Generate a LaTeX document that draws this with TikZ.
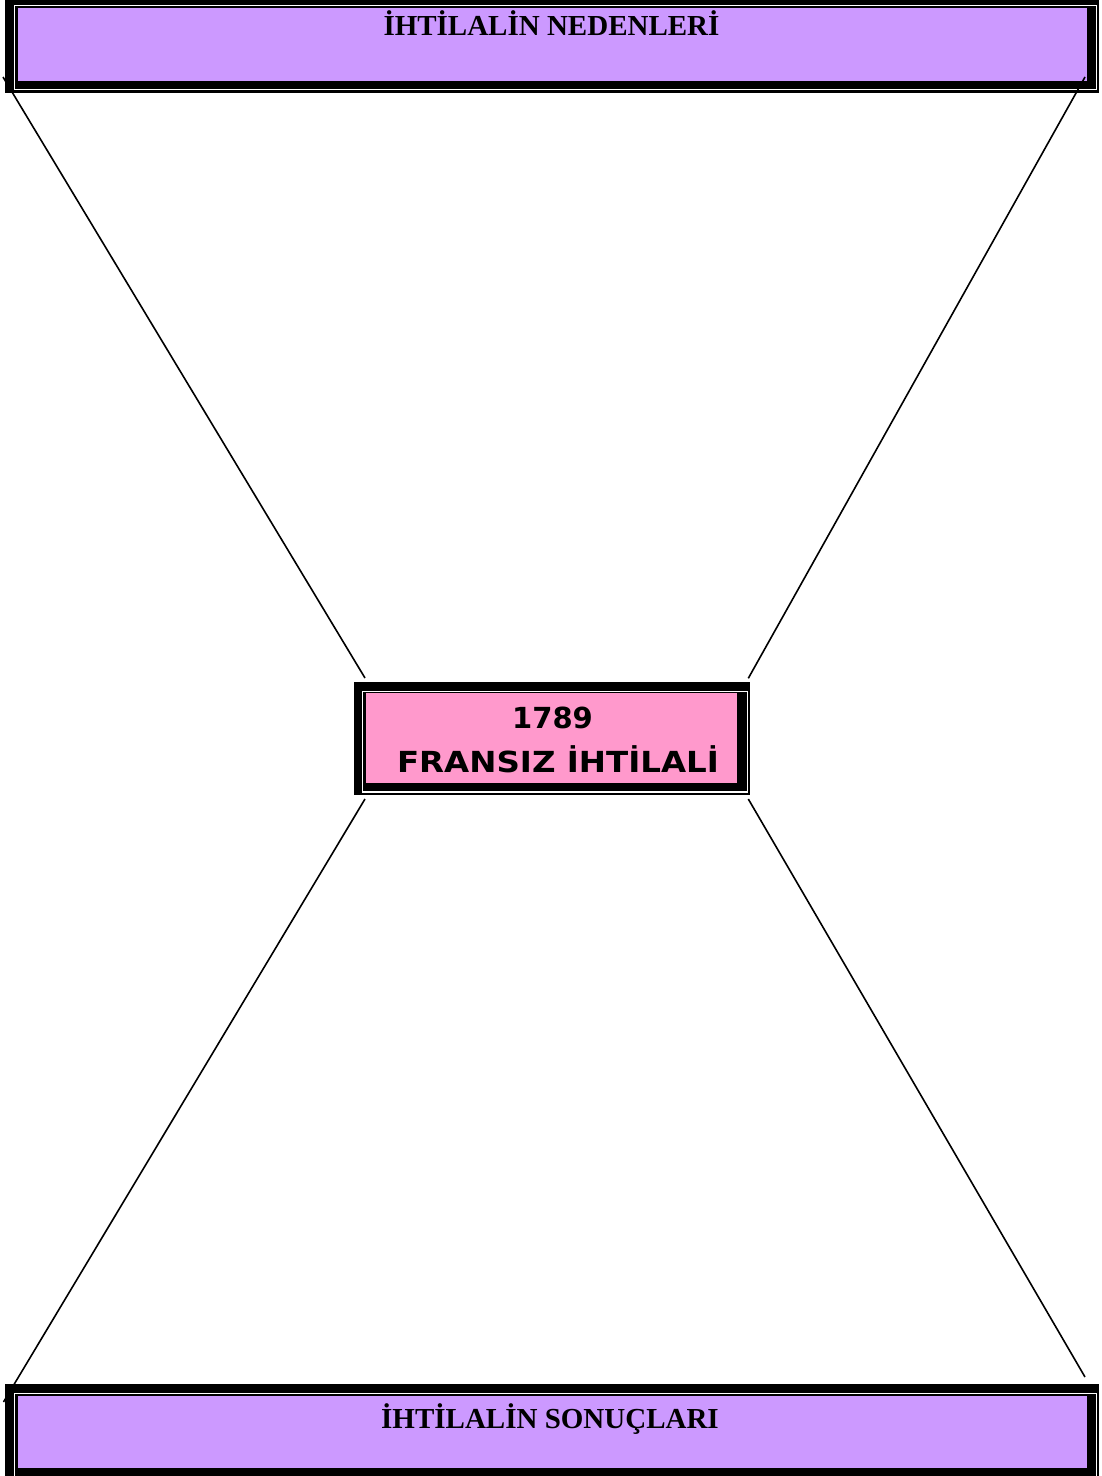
\documentclass[tikz,border=0pt]{standalone}
\usepackage{fontspec}
\setmainfont{Liberation Serif}
\newfontfamily\comicfont[FakeStretch=1.12]{DejaVu Sans}
\newfontfamily\yearfont{DejaVu Sans}
\definecolor{lavender}{HTML}{CC99FF}
\definecolor{pinkfill}{HTML}{FF99CC}
\begin{document}
\begin{tikzpicture}[x=1pt,y=-1pt,
  shadowframe/.style={fill=black,draw=none},
  innerline/.style={draw=white,line width=1.3pt},
  titlebg/.style={fill=lavender,draw=none},
  centerbg/.style={fill=pinkfill,draw=none},
  titletext/.style={anchor=base,inner sep=0pt,font=\fontsize{29}{34}\selectfont\bfseries},
  centertext/.style={anchor=base,inner sep=0pt,font=\fontsize{29}{34}\selectfont\bfseries\comicfont},
  connector/.style={draw=black,line width=1.6pt}]
\useasboundingbox (0,0) rectangle (1101,1476);
% top box
\fill[shadowframe] (5,0) rectangle (1099,93);
\draw[innerline] (14.5,5.5) rectangle (1096.5,89.5);
\fill[titlebg] (17.5,7.5) rectangle (1086.7,80.7);
\node[titletext] (causes) at (551.5,35) {İHTİLALİN NEDENLERİ};
% bottom box
\fill[shadowframe] (5,1384) rectangle (1099,1480);
\draw[innerline] (14.5,1393.5) rectangle (1096.5,1479);
\fill[titlebg] (17.5,1396) rectangle (1087,1468);
\node[titletext] (results) at (550,1428) {İHTİLALİN SONUÇLARI};
% center box
\fill[shadowframe] (354,682) rectangle (750,795);
\draw[innerline] (362.7,691.5) rectangle (747.3,792);
\fill[centerbg] (366,693.3) rectangle (737.3,783);
\node[centertext,font=\fontsize{29}{34}\selectfont\bfseries\yearfont] (year) at (552.5,728) {1789};
\node[centertext] (revolution) at (558,772) {FRANSIZ İHTİLALİ};
% connector ends
\coordinate (tlA) at (3,77);
\coordinate (tlB) at (365,678);
\coordinate (trA) at (1085,77);
\coordinate (trB) at (748.3,678.3);
\coordinate (blA) at (365,799);
\coordinate (blB) at (3.5,1402);
\coordinate (brA) at (748.3,799);
\coordinate (brB) at (1085,1377);
\draw[connector] (tlA) -- (tlB);
\draw[connector] (trA) -- (trB);
\draw[connector] (blA) -- (blB);
\draw[connector] (brA) -- (brB);
\end{tikzpicture}
\end{document}
